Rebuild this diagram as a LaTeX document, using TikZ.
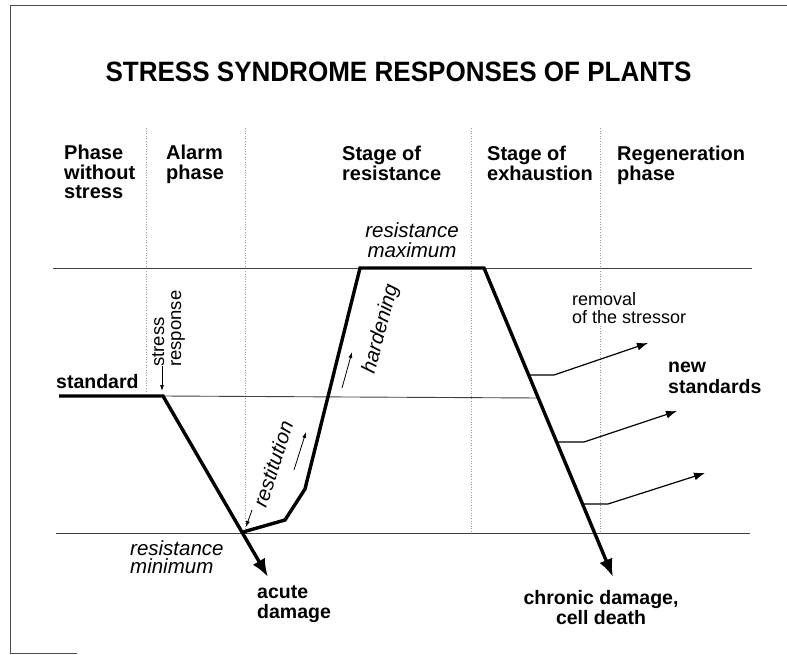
\documentclass[tikz,border=0pt]{standalone}
\usepackage{fontspec}
\setmainfont{Liberation Sans}
\usetikzlibrary{arrows.meta,calc}
\begin{document}
\begin{tikzpicture}[x=1pt,y=-1pt,
  thickcurve/.style={line width=3.4pt,line join=miter,line cap=butt},
  thinline/.style={line width=0.9pt,draw=black!75},
  dotline/.style={line width=0.6pt,draw=black!40,dotted},
  framel/.style={line width=1pt,draw=black!70},
  branch/.style={line width=1.2pt,-{Latex[length=11pt,width=8pt]}},
  smallarrow/.style={line width=0.8pt,-{Latex[length=6pt,width=4pt]}},
  hdr/.style={anchor=base west,inner sep=0pt,font=\fontsize{20}{20}\selectfont\bfseries},
  bold/.style={inner sep=0pt,font=\fontsize{19.5}{20}\selectfont\bfseries},
  ital/.style={inner sep=0pt,font=\fontsize{20.5}{21}\selectfont\itshape},
  reg/.style={inner sep=0pt,font=\fontsize{18}{18}\selectfont}]
\useasboundingbox (0,0) rectangle (787,655);
% frame remnants
\draw[framel] (10,6) -- (787,6);
\draw[framel] (10,6) -- (10,653) -- (77,653);
% title
\node[anchor=base,inner sep=0pt,font=\fontsize{28}{28}\selectfont\bfseries] (title) at (398.5,82) {\scalebox{0.93}[1]{STRESS SYNDROME RESPONSES OF PLANTS}};
% dotted separators
\draw[dotline] (146,128) -- (146,393);
\draw[dotline] (245,128) -- (245,532);
\draw[dotline] (471,128) -- (471,533);
\draw[dotline] (600,128) -- (600,533);
% headers
\node[hdr] (h1a) at (64,160) {Phase};
\node[hdr] (h1b) at (64,180) {without};
\node[hdr] (h1c) at (64,199) {stress};
\node[hdr] (h2a) at (166,160) {Alarm};
\node[hdr] (h2b) at (166,180) {phase};
\node[hdr] (h3a) at (342,161) {Stage of};
\node[hdr] (h3b) at (342,181) {resistance};
\node[hdr] (h4a) at (487,161) {Stage of};
\node[hdr] (h4b) at (487,181) {exhaustion};
\node[hdr] (h5a) at (617,161) {Regeneration};
\node[hdr] (h5b) at (617,181) {phase};
% coordinates of the curve
\coordinate (s0) at (59,396);
\coordinate (s1) at (163,396);
\coordinate (mn) at (243,532);
\coordinate (acuteTip) at (268,577);
\coordinate (r1) at (285,520);
\coordinate (r2) at (305,489);
\coordinate (mx1) at (360,268);
\coordinate (mx2) at (484,268);
\coordinate (chronTip) at (613,577);
% reference lines
\coordinate (midEnd) at ($(mx2)!0.4207!(chronTip)$);
\draw[thinline] (s1) -- (midEnd);
\draw[thinline] (53,268) -- (752,268);
\draw[thinline] (56,533) -- (750,533);
% removal label (white background interrupts dotted line)
\node[reg,anchor=base west,fill=white,inner sep=2pt] (rem1) at (570,305) {removal};
\node[reg,anchor=base west,fill=white,inner sep=2pt] (rem2) at (570,323) {of the stressor};
% thick curve
\draw[thickcurve,-{Latex[length=18pt,width=14pt]}] (s0) -- (s1) -- (acuteTip);
\draw[thickcurve,-{Latex[length=18pt,width=14pt]}] (mn) -- (r1) -- (r2) -- (mx1) -- (mx2) -- (chronTip);
% branches
\coordinate (b1s) at ($(mx2)!0.3463!(chronTip)$);
\coordinate (b1m) at (554,375);
\coordinate (b1e) at (648,343);
\coordinate (b2s) at ($(mx2)!0.5631!(chronTip)$);
\coordinate (b2m) at (584,442);
\coordinate (b2e) at (677,411);
\coordinate (b3s) at ($(mx2)!0.7638!(chronTip)$);
\coordinate (b3m) at (608,504);
\coordinate (b3e) at (705,473);
\draw[branch] (b1s) -- (b1m) -- (b1e);
\draw[branch] (b2s) -- (b2m) -- (b2e);
\draw[branch] (b3s) -- (b3m) -- (b3e);
% small arrows
\coordinate (sa1) at (162,366); \coordinate (sa2) at (162,391);
\draw[smallarrow] (sa1) -- (sa2);
\coordinate (ra1) at (252,510); \coordinate (ra2) at (246,527);
\draw[smallarrow] (ra1) -- (ra2);
\coordinate (rb1) at (294,470); \coordinate (rb2) at (306,432);
\draw[smallarrow] (rb1) -- (rb2);
\coordinate (ha1) at (342,388); \coordinate (ha2) at (352,352);
\draw[smallarrow] (ha1) -- (ha2);
% labels
\node[bold,anchor=base west] (std) at (56,388) {standard};
\node[reg,anchor=base west,rotate=90,font=\fontsize{18.5}{18.5}\selectfont] (st1) at (164,367) {stress};
\node[reg,anchor=base west,rotate=90,font=\fontsize{18.5}{18.5}\selectfont] (st2) at (181,367) {response};
\node[ital,anchor=base] (rmax1) at (412,237) {resistance};
\node[ital,anchor=base] (rmax2) at (412,258) {maximum};
\node[ital,rotate=75] (hard) at (381,329) {hardening};
\node[ital,rotate=72] (rest) at (273,464) {restitution};
\node[ital,anchor=base west] (rmin1) at (130,555) {resistance};
\node[ital,anchor=base west] (rmin2) at (130,573) {minimum};
\node[bold,anchor=base west] (ac1) at (257,598) {acute};
\node[bold,anchor=base west] (ac2) at (257,618) {damage};
\node[bold,anchor=base] (ch1) at (601,604) {chronic damage,};
\node[bold,anchor=base] (ch2) at (601,624) {cell death};
\node[bold,anchor=base west] (ns1) at (668,372) {new};
\node[bold,anchor=base west] (ns2) at (668,393) {standards};
\end{tikzpicture}
\end{document}
